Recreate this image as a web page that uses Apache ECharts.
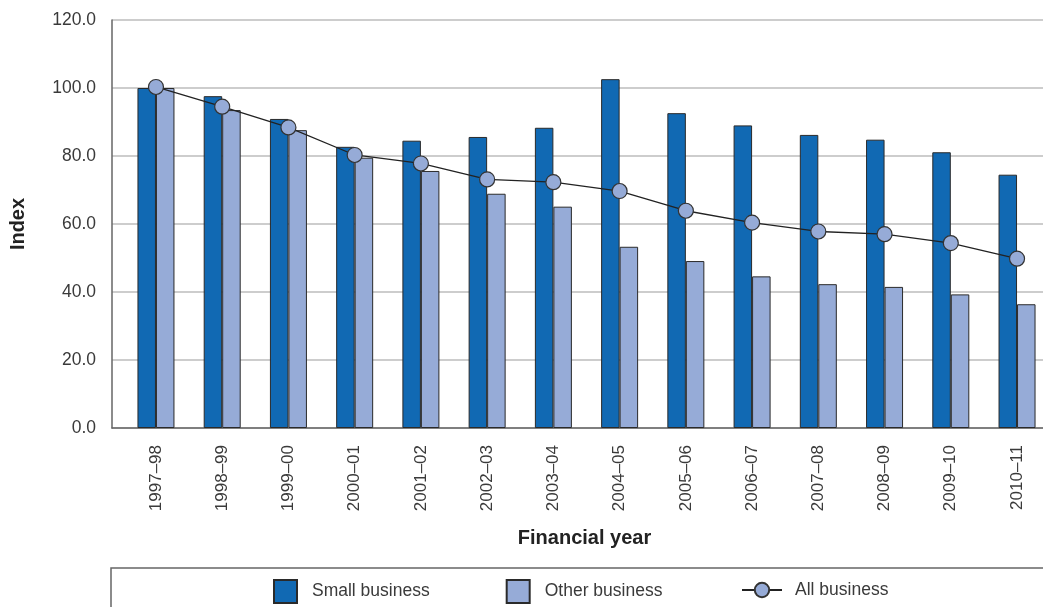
<!DOCTYPE html>
<html>
<head>
<meta charset="utf-8">
<script src="https://cdn.jsdelivr.net/npm/echarts@6/dist/echarts.min.js"></script>
<style>
  html, body { margin: 0; padding: 0; background: #fff; }
  #chart { width: 1043px; height: 607px; }
</style>
</head>
<body>
<div id="chart"></div>
<script>
// Financial years on the horizontal axis
const categories = ['1997–98', '1998–99', '1999–00', '2000–01', '2001–02', '2002–03', '2003–04',
  '2004–05', '2005–06', '2006–07', '2007–08', '2008–09', '2009–10', '2010–11'];

// Index values (1997–98 = 100)
const smallBusiness = [100.0, 97.6, 90.9, 82.7, 84.5, 85.6, 88.3, 102.6, 92.6, 89.0, 86.2, 84.8, 81.1, 74.5];
const otherBusiness = [100.0, 93.5, 87.6, 79.5, 75.6, 68.9, 65.1, 53.3, 49.1, 44.6, 42.3, 41.5, 39.3, 36.4];
const allBusiness = [100.3, 94.5, 88.4, 80.3, 77.8, 73.1, 72.3, 69.7, 63.9, 60.4, 57.8, 57.0, 54.4, 49.8];

// Value-axis ticks
const yTicks = [0, 20, 40, 60, 80, 100, 120];

const FONT = '"Liberation Sans", Arial, sans-serif';
const TEXT = '#3a3a3a';

const chart = echarts.init(document.getElementById('chart'), null, { renderer: 'canvas' });

const toPoints = arr => arr.map((v, i) => [i, v]);

chart.setOption({
  backgroundColor: '#ffffff',
  animation: false,
  textStyle: { fontFamily: FONT, color: TEXT },
  grid: { left: 111, right: 0, top: 20, bottom: 179, containLabel: false },
  xAxis: {
    type: 'value',
    min: -0.6636,
    max: 13.392,
    minInterval: 1,
    maxInterval: 1,
    name: 'Financial year',
    nameLocation: 'middle',
    nameGap: 100,
    nameTextStyle: { fontFamily: FONT, fontSize: 20, fontWeight: 'bold', color: '#222', padding: [0, 0, 0, 14] },
    axisLine: { show: true, onZero: false, lineStyle: { color: '#666', width: 1.5 } },
    axisTick: { show: false },
    splitLine: { show: false },
    axisLabel: {
      rotate: 90,
      margin: 17,
      fontFamily: FONT,
      fontSize: 17,
      color: TEXT,
      showMinLabel: true,
      showMaxLabel: true,
      formatter: v => {
        const r = Math.round(v);
        return Math.abs(v - r) < 1e-6 && categories[r] ? categories[r] : '';
      }
    }
  },
  yAxis: {
    type: 'value',
    min: yTicks[0],
    max: yTicks[yTicks.length - 1],
    interval: yTicks[1] - yTicks[0],
    name: 'Index',
    nameLocation: 'middle',
    nameGap: 84,
    nameTextStyle: { fontFamily: FONT, fontSize: 20, fontWeight: 'bold', color: '#222' },
    axisLine: { show: true, onZero: false, lineStyle: { color: '#666', width: 1.5 } },
    axisTick: { show: false },
    splitLine: { show: true, lineStyle: { color: '#bdbdbd', width: 1.5 } },
    axisLabel: {
      margin: 16,
      fontFamily: FONT,
      fontSize: 17.5,
      color: TEXT,
      formatter: v => v.toFixed(1)
    }
  },
  legend: [
    {
      data: ['Small business', 'Other business'],
      left: 273,
      top: 579,
      padding: 0,
      icon: 'rect',
      itemWidth: 23,
      itemHeight: 23,
      itemGap: 76,
      textStyle: { fontFamily: FONT, fontSize: 17.5, color: TEXT, padding: [0, 0, 0, 10] }
    },
    {
      data: ['All business'],
      left: 741,
      top: 581,
      padding: 0,
      itemWidth: 40,
      itemHeight: 18,
      textStyle: { fontFamily: FONT, fontSize: 17.5, color: TEXT, padding: [0, 0, 0, 8] }
    }
  ],
  graphic: [
    {
      // frame around the key
      type: 'polyline',
      silent: true,
      shape: { points: [[111, 607], [111, 568], [1043, 568]] },
      style: { stroke: '#666', lineWidth: 1.5, fill: null }
    }
  ],
  series: [
    {
      name: 'Small business',
      type: 'bar',
      data: toPoints(smallBusiness),
      barWidth: 18.5,
      barGap: '0%',
      itemStyle: { color: '#1169b3', borderColor: '#2a2a2a', borderWidth: 1 }
    },
    {
      name: 'Other business',
      type: 'bar',
      data: toPoints(otherBusiness),
      barWidth: 18.5,
      barGap: '0%',
      itemStyle: { color: '#96abd7', borderColor: '#2a2a2a', borderWidth: 1 }
    },
    {
      name: 'All business',
      type: 'line',
      data: toPoints(allBusiness),
      symbol: 'circle',
      symbolSize: 15,
      lineStyle: { color: '#222', width: 1.3 },
      itemStyle: { color: '#96abd7', borderColor: '#333', borderWidth: 1.2 },
      z: 5
    }
  ]
});
</script>
</body>
</html>
